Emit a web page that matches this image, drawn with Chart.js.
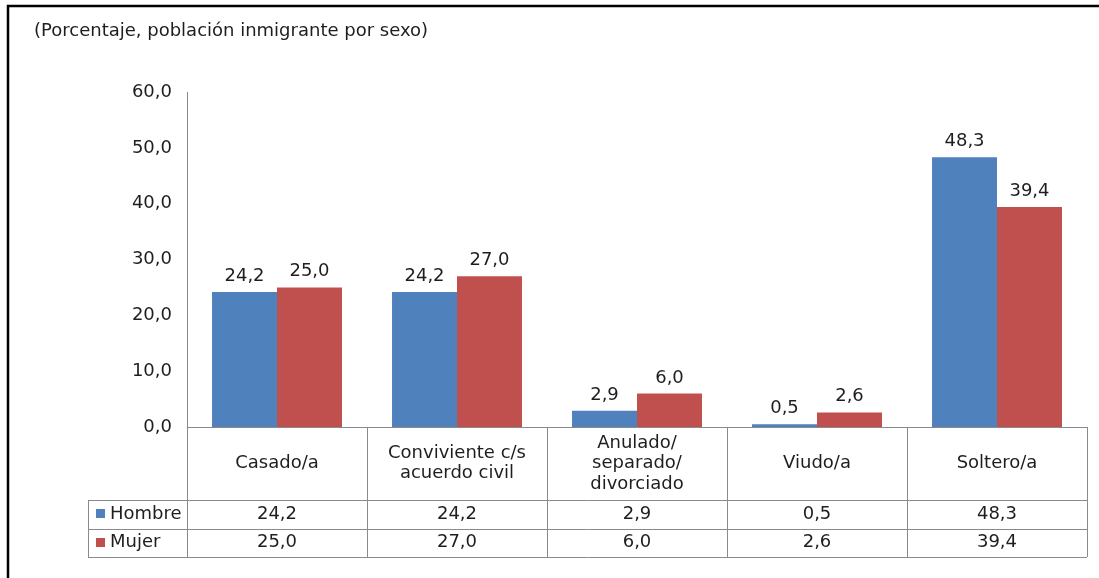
<!DOCTYPE html>
<html>
<head>
<meta charset="utf-8">
<script src="https://cdn.jsdelivr.net/npm/chart.js@4"></script>
<style>
  html, body { margin: 0; padding: 0; background: #ffffff; }
  #wrap { width: 1099px; height: 578px; position: relative; }
</style>
</head>
<body>
<div id="wrap"><canvas id="c" width="1099" height="578"></canvas></div>
<script>
const subtitle = '(Porcentaje, población inmigrante por sexo)';
const categories = [
  ['Casado/a'],
  ['Conviviente c/s', 'acuerdo civil'],
  ['Anulado/', 'separado/', 'divorciado'],
  ['Viudo/a'],
  ['Soltero/a']
];
const seriesNames = ['Hombre', 'Mujer'];
const hombre = [24.2, 24.2, 2.9, 0.5, 48.3];
const mujer = [25.0, 27.0, 6.0, 2.6, 39.4];
const yTicks = [0, 10, 20, 30, 40, 50, 60];

const BLUE = '#4F81BD';
const RED = '#C0504D';
const GRID = '#8a8a8a';
const TEXT = '#1e1e1e';
const FONT = '"DejaVu Sans", Verdana, sans-serif';
const FS = 18;
const fmt = v => v.toFixed(1).replace('.', ',');

const tablePlugin = {
  id: 'tablePlugin',
  beforeDraw(chart) {
    const ctx = chart.ctx;
    ctx.save();
    ctx.fillStyle = '#ffffff';
    ctx.fillRect(0, 0, chart.width, chart.height);
    // frame
    ctx.strokeStyle = '#000000';
    ctx.lineWidth = 2.5;
    ctx.beginPath();
    ctx.moveTo(8, 578);
    ctx.lineTo(8, 6);
    ctx.lineTo(1099, 6);
    ctx.stroke();
    // subtitle
    ctx.fillStyle = TEXT;
    ctx.font = '18px ' + FONT;
    ctx.textBaseline = 'middle';
    ctx.textAlign = 'left';
    ctx.fillText(subtitle, 34, 31);
    ctx.restore();
  },
  afterDatasetsDraw(chart) {
    const ctx = chart.ctx;
    const x = chart.scales.x;
    const area = chart.chartArea;
    ctx.save();
    // value labels on bars
    ctx.font = FS + 'px ' + FONT;
    ctx.fillStyle = TEXT;
    ctx.textAlign = 'center';
    ctx.textBaseline = 'alphabetic';
    chart.data.datasets.forEach((ds, di) => {
      const meta = chart.getDatasetMeta(di);
      meta.data.forEach((bar, i) => {
        ctx.fillText(fmt(ds.data[i]), bar.x, bar.y - 11);
      });
    });

    // data table
    const n = categories.length;
    const step = x.getPixelForValue(1) - x.getPixelForValue(0);
    const right = area.right;
    const top = area.bottom;
    const headerBottom = top + 73;
    const rowH = 28.5;
    const legendLeft = 88;
    ctx.strokeStyle = GRID;
    ctx.lineWidth = 1;
    ctx.beginPath();
    for (let i = 0; i <= n; i++) {
      const px = Math.round(x.getPixelForValue(0) - step / 2 + i * step) + 0.5;
      ctx.moveTo(px, top);
      ctx.lineTo(px, headerBottom + 2 * rowH);
    }
    for (let r = 0; r <= 2; r++) {
      const py = Math.round(headerBottom + r * rowH) + 0.5;
      ctx.moveTo(legendLeft, py);
      ctx.lineTo(right, py);
    }
    ctx.moveTo(legendLeft + 0.5, headerBottom);
    ctx.lineTo(legendLeft + 0.5, headerBottom + 2 * rowH);
    ctx.stroke();

    // category labels
    ctx.fillStyle = TEXT;
    ctx.textBaseline = 'middle';
    ctx.textAlign = 'center';
    const lh = 20.5;
    categories.forEach((lines, i) => {
      const cx = x.getPixelForValue(i);
      const cy = (top + headerBottom) / 2;
      lines.forEach((ln, k) => {
        ctx.fillText(ln, cx, cy + (k - (lines.length - 1) / 2) * lh);
      });
    });
    // rows
    const rows = [hombre, mujer];
    const colors = [BLUE, RED];
    rows.forEach((vals, r) => {
      const cy = headerBottom + r * rowH + rowH / 2;
      ctx.fillStyle = colors[r];
      ctx.fillRect(96, Math.round(cy - 5), 9, 9);
      ctx.fillStyle = TEXT;
      ctx.textAlign = 'left';
      ctx.fillText(seriesNames[r], 110, cy);
      ctx.textAlign = 'center';
      vals.forEach((v, i) => {
        ctx.fillText(fmt(v), x.getPixelForValue(i), cy);
      });
    });
    ctx.restore();
  }
};

new Chart(document.getElementById('c'), {
  type: 'bar',
  data: {
    labels: categories.map(c => c.join(' ')),
    datasets: [
      { label: seriesNames[0], data: hombre, backgroundColor: BLUE, barPercentage: 1.0, categoryPercentage: 0.722 },
      { label: seriesNames[1], data: mujer, backgroundColor: RED, barPercentage: 1.0, categoryPercentage: 0.722 }
    ]
  },
  options: {
    responsive: false,
    animation: false,
    events: [],
    layout: { padding: { left: 0, top: 92, right: 12, bottom: 151 } },
    plugins: { legend: { display: false }, tooltip: { enabled: false } },
    scales: {
      x: {
        ticks: { display: false },
        grid: { display: false, drawTicks: false },
        border: { display: true, color: GRID, width: 1 },
        afterFit(s) { s.height = 0; }
      },
      y: {
        min: 0, max: 60,
        afterBuildTicks(s) { s.ticks = yTicks.map(v => ({ value: v })); },
        ticks: {
          padding: 15,
          color: TEXT,
          font: { family: FONT, size: FS },
          callback: v => fmt(v)
        },
        grid: { display: false, drawTicks: false },
        border: { display: true, color: GRID, width: 1 },
        afterFit(s) { s.width = 187; }
      }
    }
  },
  plugins: [tablePlugin]
});
</script>
</body>
</html>
